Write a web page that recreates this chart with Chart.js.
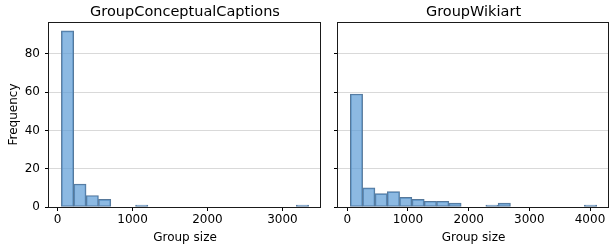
<!DOCTYPE html>
<html>
<head>
<meta charset="utf-8">
<script src="https://cdn.jsdelivr.net/npm/chart.js"></script>
<style>
    html, body { margin: 0; padding: 0; background: #ffffff; }
    #wrap { position: relative; width: 610px; height: 248px; overflow: hidden; }
    .panel { position: absolute; top: 0; height: 248px; }
    #left { left: 0; width: 330px; }
    #right { left: 330px; width: 280px; }
</style>
</head>
<body>
<div id="wrap">
    <div class="panel" id="left"><canvas id="ccChart"></canvas></div>
    <div class="panel" id="right"><canvas id="wikiChart"></canvas></div>
</div>
<script>
// Histogram bin edges (20 bins each) and counts
const ccEdges = [50, 215, 380, 545, 710, 875, 1040, 1205, 1370, 1535, 1700,
    1865, 2030, 2195, 2360, 2525, 2690, 2855, 3020, 3185, 3350];
const ccCounts = [92, 12, 6, 4, 0, 0, 1, 0, 0, 0, 0, 0, 0, 0, 0, 0, 0, 0, 0, 1];

const wikiEdges = [50, 253, 456, 659, 862, 1065, 1268, 1471, 1674, 1877, 2080,
    2283, 2486, 2689, 2892, 3095, 3298, 3501, 3704, 3907, 4110];
const wikiCounts = [59, 10, 7, 8, 5, 4, 3, 3, 2, 0, 0, 1, 2, 0, 0, 0, 0, 0, 0, 1];

// tick labels
const ccXTicks = [0, 1000, 2000, 3000];
const wikiXTicks = [0, 1000, 2000, 3000, 4000];
const yTicks = [0, 20, 40, 60, 80];

const titles = ['GroupConceptualCaptions', 'GroupWikiart'];
const xLabel = 'Group size';
const yLabel = 'Frequency';

const FONT = "'DejaVu Sans', sans-serif";
const barFill = 'rgba(91, 155, 213, 0.7)';
const barEdge = '#56789a';

// Title centred over the plot area + full box around it (matplotlib style)
const panelFrame = {
    id: 'panelFrame',
    afterDatasetsDraw(chart, args, opts) {
        const { ctx, chartArea } = chart;
        const l = Math.round(chartArea.left) - 0.5;
        const r = Math.round(chartArea.right) - 0.5;
        const t = Math.round(chartArea.top) + 0.5;
        const b = Math.round(chartArea.bottom) + 0.5;
        ctx.save();
        ctx.strokeStyle = '#1a1a1a';
        ctx.lineWidth = 1;
        ctx.strokeRect(l, t, r - l, b - t);
        ctx.fillStyle = '#000000';
        ctx.font = '14.5px ' + FONT;
        ctx.textAlign = 'center';
        ctx.textBaseline = 'middle';
        ctx.fillText(opts.text, (chartArea.left + chartArea.right) / 2, 12);
        ctx.restore();
    }
};

function makeHist(canvasId, edges, counts, title, xTicks, xMin, xMax, showY, yWidth, padRight) {
    const points = counts.map((c, i) => ({ x: (edges[i] + edges[i + 1]) / 2, y: c }));
    return new Chart(document.getElementById(canvasId), {
        type: 'bar',
        data: {
            datasets: [{
                data: points,
                backgroundColor: barFill,
                borderColor: barEdge,
                borderWidth: 1,
                borderSkipped: false,
                barPercentage: 1,
                categoryPercentage: 1
            }]
        },
        options: {
            responsive: false,
            animation: false,
            layout: { padding: { top: 22, right: padRight, left: 0, bottom: 0 } },
            plugins: {
                legend: { display: false },
                tooltip: { enabled: false },
                panelFrame: { text: title }
            },
            scales: {
                x: {
                    type: 'linear',
                    offset: false,
                    min: xMin,
                    max: xMax,
                    afterBuildTicks: s => { s.ticks = xTicks.map(v => ({ value: v })); },
                    afterFit: s => { s.height = 41; },
                    border: { display: false },
                    grid: { offset: false, drawOnChartArea: false, drawTicks: true, tickLength: 4, tickColor: '#000' },
                    ticks: {
                        maxRotation: 0,
                        autoSkip: false,
                        padding: 2,
                        color: '#000',
                        font: { family: FONT, size: 12 },
                        callback: v => String(v)
                    },
                    title: {
                        display: true,
                        text: xLabel,
                        color: '#000',
                        font: { family: FONT, size: 12 },
                        padding: { top: 0, bottom: 2.8 }
                    }
                },
                y: {
                    min: 0,
                    max: 96.6,
                    afterBuildTicks: s => { s.ticks = yTicks.map(v => ({ value: v })); },
                    afterFit: s => { s.width = yWidth; },
                    border: { display: false },
                    grid: { color: 'rgba(0,0,0,0.15)', lineWidth: 1, tickLength: 4, tickColor: '#000' },
                    ticks: {
                        display: showY,
                        padding: 5,
                        color: '#000',
                        font: { family: FONT, size: 12 },
                        callback: v => String(v)
                    },
                    title: {
                        display: showY,
                        text: yLabel,
                        color: '#000',
                        font: { family: FONT, size: 12 },
                        padding: { top: 6.8, bottom: 0 }
                    }
                }
            }
        },
        plugins: [panelFrame]
    });
}

function sizeCanvas(id, w, h) {
    const c = document.getElementById(id);
    c.width = w; c.height = h;
    c.style.width = w + 'px'; c.style.height = h + 'px';
}

sizeCanvas('ccChart', 330, 248);
sizeCanvas('wikiChart', 280, 248);

makeHist('ccChart', ccEdges, ccCounts, titles[0], ccXTicks, -115, 3515, true, 49, 9);
makeHist('wikiChart', wikiEdges, wikiCounts, titles[1], wikiXTicks, -153, 4313, false, 8, 1);
</script>
</body>
</html>
